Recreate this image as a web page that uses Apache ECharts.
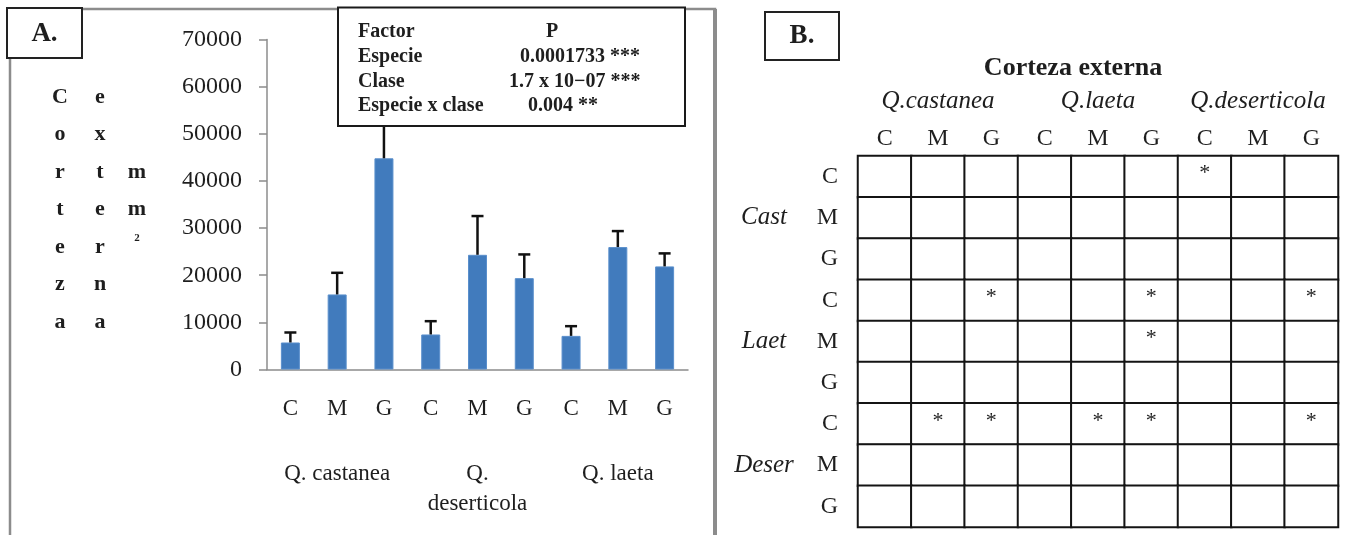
<!DOCTYPE html>
<html>
<head>
<meta charset="utf-8">
<script src="https://cdn.jsdelivr.net/npm/echarts@6/dist/echarts.min.js"></script>
<style>html,body{margin:0;padding:0;background:#fff;}#c{width:1345px;height:535px;}</style>
</head>
<body>
<div id="c"></div>
<script>
// ---- Panel A data ----
var classes = ['C', 'M', 'G', 'C', 'M', 'G', 'C', 'M', 'G'];
var species = ['Q. castanea', 'Q.\ndeserticola', 'Q. laeta'];
var means = [5730, 15920, 44800, 7430, 24330, 19380, 7130, 25970, 21870];
var errors = [2120, 4590, 9000, 2820, 8220, 5030, 2060, 3390, 2760];
var yTicks = [0, 10000, 20000, 30000, 40000, 50000, 60000, 70000];
var statFactors = ['Especie', 'Clase', 'Especie x clase'];
var statP = ['0.0001733 ***', '1.7 x 10\u221207 ***', '0.004 **'];
var yTitleCols = ['Corteza', 'externa', 'mm'];

// ---- Panel B data ----
var colClasses = ['C', 'M', 'G', 'C', 'M', 'G', 'C', 'M', 'G'];
var colSpecies = ['Q.castanea', 'Q.laeta', 'Q.deserticola'];
var rowClasses = ['C', 'M', 'G', 'C', 'M', 'G', 'C', 'M', 'G'];
var rowSpecies = ['Cast', 'Laet', 'Deser'];
var sigMatrix = [
  [0, 0, 0, 0, 0, 0, 1, 0, 0],
  [0, 0, 0, 0, 0, 0, 0, 0, 0],
  [0, 0, 0, 0, 0, 0, 0, 0, 0],
  [0, 0, 1, 0, 0, 1, 0, 0, 1],
  [0, 0, 0, 0, 0, 1, 0, 0, 0],
  [0, 0, 0, 0, 0, 0, 0, 0, 0],
  [0, 1, 1, 0, 1, 1, 0, 0, 1],
  [0, 0, 0, 0, 0, 0, 0, 0, 0],
  [0, 0, 0, 0, 0, 0, 0, 0, 0]
];

var SERIF = '"Liberation Serif","Times New Roman",serif';
var TXT = '#1e1e1e';
var GRAYL = '#8c8c8c';

var heatData = [];
sigMatrix.forEach(function (row, r) {
  row.forEach(function (v, c) { heatData.push([c, r, v]); });
});

function txt(x, y, text, font, align, vAlign, extra) {
  var el = {
    type: 'text', z: 101,
    style: {
      x: x, y: y, text: text, font: font, fill: TXT,
      align: align || 'left', textAlign: align || 'left',
      verticalAlign: vAlign || 'middle', textVerticalAlign: vAlign || 'middle'
    }
  };
  if (extra) for (var k in extra) el.style[k] = extra[k];
  return el;
}

var graphics = [];
// frame of panel A
graphics.push({ type: 'polyline', z: 1, shape: { points: [[82, 9], [715, 9], [715, 535]] }, style: { stroke: GRAYL, lineWidth: 2.5, fill: null } });
graphics.push({ type: 'polyline', z: 1, shape: { points: [[715, 9], [715, 535]] }, style: { stroke: GRAYL, lineWidth: 4, fill: null } });
graphics.push({ type: 'line', z: 1, shape: { x1: 10, y1: 58, x2: 10, y2: 535 }, style: { stroke: GRAYL, lineWidth: 2.5 } });
// A. box
graphics.push({ type: 'rect', z: 100, shape: { x: 7, y: 8, width: 75, height: 50 }, style: { fill: '#fff', stroke: '#222', lineWidth: 2 } });
graphics.push(txt(44.5, 34, 'A.', 'bold 27px ' + SERIF, 'center', 'middle'));
// stats box
graphics.push({ type: 'rect', z: 100, shape: { x: 338, y: 7.5, width: 347, height: 118.5 }, style: { fill: '#fff', stroke: '#1a1a1a', lineWidth: 2 } });
graphics.push(txt(358, 32, 'Factor', 'bold 20px ' + SERIF, 'left', 'middle'));
graphics.push(txt(552, 32, 'P', 'bold 20px ' + SERIF, 'center', 'middle'));
var pX = [520, 509, 528];
statFactors.forEach(function (f, i) {
  graphics.push(txt(358, 57 + i * 24.6, f, 'bold 20px ' + SERIF, 'left', 'middle'));
  graphics.push(txt(pX[i], 57 + i * 24.6, statP[i], 'bold 20px ' + SERIF, 'left', 'middle'));
});
// y title stacked letters
var colX = [60, 100, 137];
var rowStart = [0, 0, 2];
yTitleCols.forEach(function (w, ci) {
  graphics.push(txt(colX[ci], 97 - 18.75 + rowStart[ci] * 37.5, w.split('').join('\n'), 'bold 22px ' + SERIF, 'center', 'top', { lineHeight: 37.5 }));
});
graphics.push(txt(137, 238, '2', 'bold 11px ' + SERIF, 'center', 'middle'));
// B. box
graphics.push({ type: 'rect', z: 100, shape: { x: 765, y: 12, width: 74, height: 48 }, style: { fill: '#fff', stroke: '#222', lineWidth: 2 } });
graphics.push(txt(802, 36, 'B.', 'bold 27px ' + SERIF, 'center', 'middle'));
graphics.push(txt(1073, 68, 'Corteza externa', 'bold 26px ' + SERIF, 'center', 'middle'));

var option = {
  animation: false,
  backgroundColor: '#fff',
  textStyle: { fontFamily: SERIF },
  grid: [
    { left: 267, top: 39.5, width: 421, height: 330, outerBoundsMode: 'none', containLabel: false },
    { left: 858, top: 156, width: 480, height: 371, outerBoundsMode: 'none', containLabel: false }
  ],
  xAxis: [
    {
      type: 'category', gridIndex: 0, data: classes, position: 'bottom',
      axisLine: { lineStyle: { color: GRAYL, width: 1.5 } },
      axisTick: { interval: 0, length: 62, lineStyle: { color: '#9a9a9a', width: 1.5 } },
      axisLabel: { interval: 0, margin: 28, fontSize: 23, color: TXT, fontFamily: SERIF }
    },
    {
      type: 'category', gridIndex: 0, data: species, position: 'bottom',
      axisLine: { show: false },
      axisTick: { interval: 0, length: 156, lineStyle: { color: '#9a9a9a', width: 1.5 } },
      axisLabel: { interval: 0, margin: 89, fontSize: 23, lineHeight: 30, color: TXT, fontFamily: SERIF }
    },
    {
      type: 'category', gridIndex: 1, data: colClasses, position: 'top',
      axisLine: { show: false }, axisTick: { show: false },
      axisLabel: { interval: 0, margin: 5, fontSize: 24, color: TXT, fontFamily: SERIF }
    },
    {
      type: 'category', gridIndex: 1, data: colSpecies, position: 'top',
      axisLine: { show: false }, axisTick: { show: false },
      axisLabel: { interval: 0, margin: 42, fontSize: 25, fontStyle: 'italic', color: TXT, fontFamily: SERIF }
    }
  ],
  yAxis: [
    {
      type: 'value', gridIndex: 0, min: 0, max: 70000, interval: 10000,
      axisLine: { show: true, lineStyle: { color: GRAYL, width: 1.5 } },
      axisTick: { show: true, length: 8, lineStyle: { color: GRAYL, width: 1.5 } },
      splitLine: { show: false },
      axisLabel: {
        margin: 25, fontSize: 24, color: TXT, fontFamily: SERIF,
        formatter: function (v) { return String(v); }
      }
    },
    {
      type: 'category', gridIndex: 1, data: rowClasses, inverse: true, position: 'left',
      axisLine: { show: false }, axisTick: { show: false },
      axisLabel: { interval: 0, margin: 20, fontSize: 24, color: TXT, fontFamily: SERIF, padding: [6, 0, 0, 0] }
    },
    {
      type: 'category', gridIndex: 1, data: rowSpecies, inverse: true, position: 'left',
      axisLine: { show: false }, axisTick: { show: false },
      axisLabel: { interval: 0, margin: 94, align: 'center', fontSize: 25, fontStyle: 'italic', color: TXT, fontFamily: SERIF }
    }
  ],
  visualMap: {
    show: false, seriesIndex: 2, dimension: 2, min: 0, max: 1,
    inRange: { color: ['#ffffff', '#ffffff'] }
  },
  series: [
    {
      type: 'bar', xAxisIndex: 0, yAxisIndex: 0, data: means, barWidth: 19,
      itemStyle: { color: '#417bbd', borderColor: '#5a8fcc', borderWidth: 1 }
    },
    {
      type: 'custom', xAxisIndex: 0, yAxisIndex: 0, z: 3,
      data: means.map(function (m, i) { return [i, m, errors[i]]; }),
      encode: { x: 0, y: 1 },
      renderItem: function (params, api) {
        var i = api.value(0);
        var base = api.coord([i, api.value(1)]);
        var top = api.coord([i, api.value(1) + api.value(2)]);
        var st = { stroke: '#111', lineWidth: 2.5 };
        return {
          type: 'group', children: [
            { type: 'line', shape: { x1: base[0], y1: base[1], x2: top[0], y2: top[1] }, style: st },
            { type: 'line', shape: { x1: top[0] - 6, y1: top[1], x2: top[0] + 6, y2: top[1] }, style: st }
          ]
        };
      }
    },
    {
      type: 'heatmap', xAxisIndex: 2, yAxisIndex: 1, data: heatData,
      itemStyle: { borderColor: '#141414', borderWidth: 2 },
      label: {
        show: true, fontSize: 22, color: TXT, fontFamily: SERIF, offset: [0, -3],
        formatter: function (p) { return p.value[2] ? '*' : ''; }
      },
      emphasis: { disabled: true }
    }
  ],
  graphic: graphics
};

var chart = echarts.init(document.getElementById('c'));
chart.setOption(option);
</script>
</body>
</html>
